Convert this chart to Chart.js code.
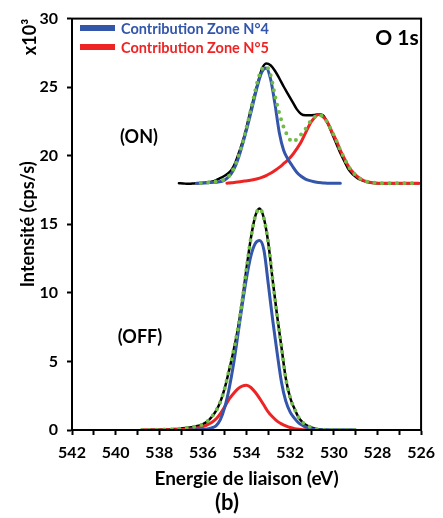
<!DOCTYPE html>
<html>
<head>
<meta charset="utf-8">
<script src="https://cdn.jsdelivr.net/npm/chart.js@4.4.0/dist/chart.umd.min.js"></script>
<style>
html,body{margin:0;padding:0;background:#fff;}
#wrap{position:relative;width:443px;height:518px;overflow:hidden;}
#c{position:absolute;left:0;top:0;}
.t{position:absolute;font-family:Lato,"DejaVu Sans",sans-serif;font-weight:bold;white-space:nowrap;line-height:1;}
.cc{transform:translate(-50%,-50%);}
.lc{transform:translateY(-50%);}
.bar{position:absolute;height:6px;width:35px;}
</style>
</head>
<body>
<div id="wrap">
<canvas id="c" width="443" height="518"></canvas>
<div class="bar" style="left:80px;top:25px;background:#3355aa"></div>
<div class="t lc" style="left:121px;top:29px;font-size:14.5px;color:#3355aa">Contribution Zone N°4</div>
<div class="bar" style="left:80px;top:44px;background:#ee2424"></div>
<div class="t lc" style="left:121px;top:48px;font-size:14.5px;color:#ee2424">Contribution Zone N°5</div>
<div class="t cc" style="left:397px;top:36px;font-size:21px;color:#000">O 1s</div>
<div class="t cc" style="left:139px;top:136px;font-size:18px;color:#000">(ON)</div>
<div class="t cc" style="left:140px;top:336px;font-size:18px;color:#000">(OFF)</div>
<div class="t cc" style="left:29px;top:37px;font-size:18px;color:#000;transform:translate(-50%,-50%) rotate(-90deg)">x10³</div>
<div class="t cc" style="left:227px;top:502px;font-size:22px;color:#000">(b)</div>
</div>
<script>
// ---- data ----
const energyOn = [537.1,536.9,536.7,536.5,536.3,536.1,535.9,535.7,535.5,535.3,535.1,
  534.9,534.7,534.5,534.3,534.1,533.9,533.7,533.5,533.3,533.1,
  532.9,532.7,532.5,532.3,532.1,531.9,531.7,531.5,531.3,531.1,
  530.9,530.7,530.5,530.3,530.1,529.9,529.7,529.5,529.3,529.1,
  528.9,528.7,528.5,528.3,528.1,527.9,527.7,527.5,527.3,527.1,
  526.9,526.7,526.5,526.3,526.1];
const onRaw = [18.0,17.98,17.95,17.97,18.0,18.0,18.03,18.08,18.15,18.3,18.45,
  18.65,18.95,19.55,20.45,21.45,22.75,24.0,25.2,26.3,26.72,
  26.6,26.2,25.65,25.05,24.5,23.95,23.4,23.05,22.95,22.95,
  22.97,23.02,22.95,22.45,21.7,20.95,20.2,19.55,18.95,18.6,
  18.35,18.2,18.1,18.03,18.0,18.0,18.0,17.98,18.0,18.0,
  18.0,18.0,18.0,18.0,18.0];
const onFit = [null,null,null,null,null,18.01,18.03,18.06,18.1,18.15,18.22,
  18.38,18.75,19.4,20.3,21.45,22.7,24.05,25.4,26.3,26.5,
  25.9,24.4,23.1,22.1,21.4,21.0,21.2,21.55,21.95,22.45,
  22.8,23.0,22.85,22.45,21.8,21.15,20.4,19.75,19.15,18.75,
  18.45,18.25,18.12,18.05,18.02,18.0,18.0,18.0,18.0,18.0,
  18.0,18.0,18.0,18.0,18.0];
const onZone4 = [null,null,null,null,18.0,18.01,18.02,18.04,18.06,18.09,18.15,
  18.35,18.7,19.3,20.2,21.3,22.5,23.8,25.1,26.1,26.4,
  25.6,23.8,21.7,20.4,19.75,19.25,18.8,18.5,18.3,18.18,
  18.1,18.04,18.02,18.0,18.0,18.0,18.0,null,null,null,
  null,null,null,null,null,null,null,null,null,null,
  null,null,null,null,null];
const onZone5 = [null,null,null,null,null,null,null,null,null,null,null,
  18.0,18.03,18.07,18.11,18.15,18.2,18.25,18.32,18.42,18.55,
  18.72,18.92,19.15,19.42,19.7,20.05,20.5,21.0,21.65,22.3,
  22.75,23.0,22.85,22.45,21.8,21.15,20.4,19.75,19.15,18.75,
  18.45,18.25,18.12,18.05,18.02,18.0,18.0,18.0,18.0,18.0,
  18.0,18.0,18.0,18.0,18.0];

const energyOff = [538.8,538.6,538.4,538.2,538.0,537.8,537.6,537.4,537.2,537.0,
  536.8,536.6,536.4,536.2,536.0,535.8,535.6,535.4,535.2,535.0,
  534.8,534.6,534.4,534.2,534.0,533.8,533.6,533.4,533.2,533.0,
  532.8,532.6,532.4,532.2,532.0,531.8,531.6,531.4,531.2,531.0,
  530.8,530.6,530.4,530.2,530.0,529.8,529.6,529.4,529.2,529.0];
const offRaw = [0,0,0.01,0.01,0.02,0.03,0.04,0.06,0.08,0.11,
  0.14,0.18,0.24,0.31,0.42,0.62,0.95,1.4,2.05,3.05,
  4.35,5.75,7.35,9.4,11.8,14.0,15.6,16.15,15.4,13.6,
  10.9,8.35,6.05,3.75,2.35,1.55,0.88,0.52,0.3,0.17,
  0.07,0.03,0.01,0,0,0,0,0,0,0];
const offFit = [0,0,0.01,0.01,0.02,0.03,0.04,0.06,0.08,0.11,
  0.14,0.18,0.24,0.31,0.42,0.62,0.95,1.4,2.05,3.05,
  4.35,5.75,7.35,9.4,11.8,14.0,15.6,16.15,15.4,13.6,
  10.9,8.35,6.05,3.75,2.35,1.55,0.88,0.52,0.3,0.17,
  0.07,0.03,0.01,0,0,0,0,0,0,0];
const offZone4 = [null,null,null,null,null,null,null,null,null,null,
  null,0,0.01,0.02,0.04,0.08,0.16,0.3,0.75,1.65,
  3.0,4.75,6.9,9.1,11.1,12.7,13.6,13.82,13.1,10.6,
  8.0,5.65,3.5,2.1,1.3,0.85,0.5,0.3,0.17,0.08,
  0.04,0.02,0.01,0,0,0,0,0,0,0];
const offZone5 = [0,0,0,0,0,0.01,0.01,0.02,0.03,0.04,
  0.06,0.08,0.11,0.16,0.25,0.38,0.55,0.8,1.2,1.7,
  2.25,2.65,3.0,3.2,3.26,3.1,2.75,2.3,1.8,1.3,
  0.95,0.65,0.45,0.3,0.18,0.1,0.05,0.02,0.01,0,
  null,null,null,null,null,null,null,null,null,null];

const xTickLabels = [542,540,538,536,534,532,530,528,526];
const yTickLabels = [0,5,10,15,20,25,30];

// ---- styles ----
const BLUE = '#3355aa', RED = '#ee2424', GREEN = '#6fbd45', BLACK = '#000000';

function pts(xs, ys) {
  const out = [];
  xs.forEach((x, i) => { if (ys[i] !== null) out.push({x: x, y: ys[i]}); });
  return out;
}
function line(label, xs, ys, color, width, order, dotted) {
  const ds = {
    label: label, data: pts(xs, ys), borderColor: color, backgroundColor: color,
    borderWidth: width, pointRadius: 0, fill: false, order: order,
    cubicInterpolationMode: 'monotone', borderCapStyle: 'round', borderJoinStyle: 'round'
  };
  if (dotted) { ds.borderDash = [0, 7.5]; }
  return ds;
}

const framePlugin = {
  id: 'frame',
  afterDraw(chart) {
    const {ctx, chartArea: a} = chart;
    ctx.save();
    ctx.strokeStyle = '#000';
    ctx.lineWidth = 2;
    ctx.strokeRect(a.left, a.top, a.right - a.left, a.bottom - a.top);
    ctx.restore();
  }
};

Chart.defaults.font.family = 'Lato, "DejaVu Sans", sans-serif';
Chart.defaults.color = '#000';

new Chart(document.getElementById('c'), {
  type: 'line',
  data: {
    datasets: [
      line('Fit (ON)', energyOn, onFit, GREEN, 4, 0, true),
      line('Fit (OFF)', energyOff, offFit, GREEN, 4, 0, true),
      line('Contribution Zone N°4 (ON)', energyOn, onZone4, BLUE, 3, 1, false),
      line('Contribution Zone N°5 (ON)', energyOn, onZone5, RED, 3, 1, false),
      line('Contribution Zone N°4 (OFF)', energyOff, offZone4, BLUE, 3, 1, false),
      line('Contribution Zone N°5 (OFF)', energyOff, offZone5, RED, 3, 1, false),
      line('Spectre (ON)', energyOn, onRaw, BLACK, 2.5, 2, false),
      line('Spectre (OFF)', energyOff, offRaw, BLACK, 2.5, 2, false)
    ]
  },
  options: {
    responsive: false,
    animation: false,
    devicePixelRatio: 1,
    layout: { padding: { left: 0, right: 18, top: 16, bottom: 0 } },
    plugins: { legend: { display: false }, tooltip: { enabled: false } },
    scales: {
      x: {
        type: 'linear', reverse: true, min: 526, max: 542,
        afterFit(s) { s.height = 88; },
        ticks: {
          stepSize: 1, autoSkip: false, maxRotation: 0, padding: 8,
          font: { size: 16, weight: 'bold' }, color: '#000',
          callback: (v) => xTickLabels.includes(v) ? String(v) : ''
        },
        grid: { drawOnChartArea: false, drawTicks: true, tickLength: 5, tickColor: '#000', tickWidth: 2 },
        border: { display: true, color: '#000', width: 2 },
        title: { display: true, text: 'Energie de liaison (eV)', font: { size: 19, weight: 'bold' }, color: '#000', padding: { top: 0, bottom: 28 } }
      },
      y: {
        min: 0, max: 30,
        afterFit(s) { s.width = 72; },
        ticks: {
          stepSize: 5, padding: 9,
          font: { size: 16, weight: 'bold' }, color: '#000',
          callback: (v) => yTickLabels.includes(v) ? String(v) : ''
        },
        grid: { drawOnChartArea: false, drawTicks: true, tickLength: 5, tickColor: '#000', tickWidth: 2 },
        border: { display: true, color: '#000', width: 2 },
        title: { display: true, text: 'Intensité (cps/s)', font: { size: 18, weight: 'bold' }, color: '#000', padding: { top: 17, bottom: 0 } }
      }
    }
  },
  plugins: [framePlugin]
});
</script>
</body>
</html>
